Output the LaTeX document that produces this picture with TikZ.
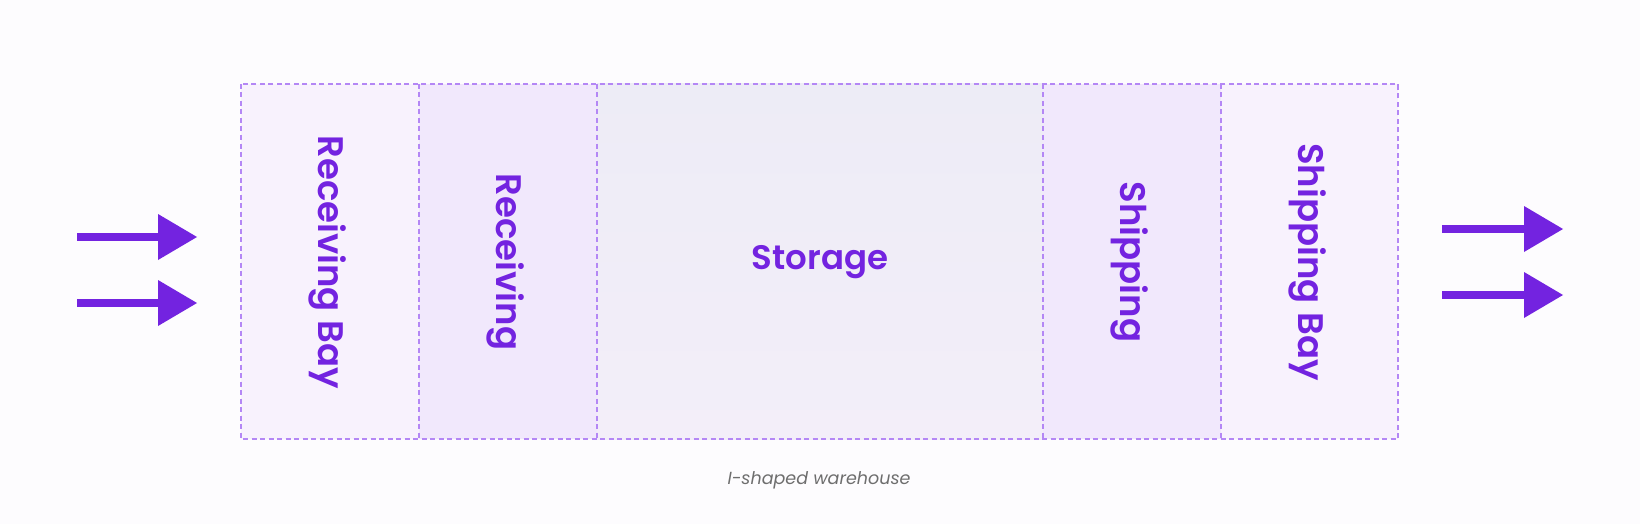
\documentclass[tikz,border=0pt]{standalone}
\usepackage{fontspec}
\setmainfont{Poppins}
\newfontfamily\lblfont{Poppins SemiBold}
\usetikzlibrary{arrows.meta}
\definecolor{bgpage}{RGB}{253,252,254}
\definecolor{purp}{RGB}{115,35,224}
\definecolor{dashc}{RGB}{180,135,245}
\definecolor{colA}{RGB}{248,242,253}
\definecolor{colB}{RGB}{241,232,252}
\definecolor{colCtop}{RGB}{237,236,246}
\definecolor{colCbot}{RGB}{243,238,249}
\definecolor{capgray}{RGB}{110,110,110}
\tikzset{
  bigarrow/.style={line width=8pt, draw=purp, -{Triangle[length=39pt,width=46pt,line width=0pt]}},
  dashborder/.style={draw=dashc, line width=1.5pt, dash pattern=on 5pt off 3.5pt},
  lbl/.style={text=purp, font=\lblfont\fontsize{35.5}{40}\selectfont, inner sep=0pt, rotate=-90},
  storagelbl/.style={text=purp, font=\lblfont\fontsize{34}{40}\selectfont, inner sep=0pt},
  caption/.style={text=capgray, font=\itshape\fontsize{17.5}{21}\selectfont, inner sep=0pt}
}
\begin{document}
\begin{tikzpicture}[x=1pt,y=-1pt]
\useasboundingbox (0,0) rectangle (1640,524);
\fill[bgpage] (0,0) rectangle (1640,524);
% soft shadow
\foreach \e in {1,...,20}{
  \fill[black, fill opacity=0.0018] (241-\e,84-\e+3) rectangle (1398+\e,439+\e+3);
}
% columns
\fill[colA] (241,84) rectangle (419,439);
\fill[colB] (419,84) rectangle (597,439);
\shade[top color=colCtop, bottom color=colCbot] (597,84) rectangle (1043,439);
\fill[colB] (1043,84) rectangle (1221,439);
\fill[colA] (1221,84) rectangle (1398,439);
% borders
\draw[dashborder] (241,84) rectangle (1398,439);
\draw[dashborder] (419,84) -- (419,439);
\draw[dashborder] (597,84) -- (597,439);
\draw[dashborder] (1043,84) -- (1043,439);
\draw[dashborder] (1221,84) -- (1221,439);
% labels
\node[lbl] (recbay) at (328,262) {Receiving Bay};
\node[lbl] (rec) at (506,262) {Receiving};
\node[storagelbl] (sto) at (820,262) {Storage};
\node[lbl] (ship) at (1130,262) {Shipping};
\node[lbl] (shipbay) at (1308,262) {Shipping Bay};
\node[caption] (cap) at (819,480) {I-shaped warehouse};
% arrows
\coordinate (in1s) at (77,237);
\coordinate (in1e) at (197,237);
\coordinate (in2s) at (77,303);
\coordinate (in2e) at (197,303);
\coordinate (out1s) at (1442,229);
\coordinate (out1e) at (1563,229);
\coordinate (out2s) at (1442,295);
\coordinate (out2e) at (1563,295);
\draw[bigarrow] (in1s) -- (in1e);
\draw[bigarrow] (in2s) -- (in2e);
\draw[bigarrow] (out1s) -- (out1e);
\draw[bigarrow] (out2s) -- (out2e);
\end{tikzpicture}
\end{document}
